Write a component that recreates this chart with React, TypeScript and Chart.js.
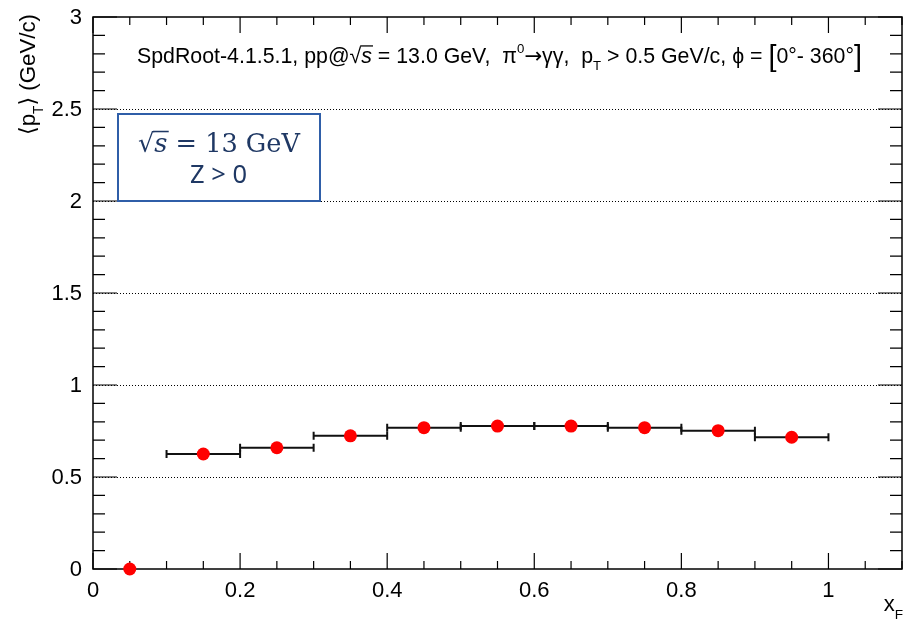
import React, { useEffect, useRef } from "react";
import { Chart, registerables } from "chart.js";
Chart.register(...registerables);

const xCenters = [0.05, 0.15, 0.25, 0.35, 0.45, 0.55, 0.65, 0.75, 0.85, 0.95];
const meanPt = [0, 0.625, 0.659, 0.724, 0.768, 0.777, 0.777, 0.768, 0.752, 0.716];
const xHalfWidth = [0, 0.05, 0.05, 0.05, 0.05, 0.05, 0.05, 0.05, 0.05, 0.05];
const xTickValues = [0, 0.2, 0.4, 0.6, 0.8, 1.0];
const xTickLabels = ["0", "0.2", "0.4", "0.6", "0.8", "1"];
const yTickValues = [0, 0.5, 1, 1.5, 2, 2.5, 3];
const yTickLabels = ["0", "0.5", "1", "1.5", "2", "2.5", "3"];
const gridValues = [0.5, 1, 1.5, 2, 2.5];

type Seg = { t: string; italic?: boolean; scale?: number; dy?: number; family?: string; over?: boolean };

const SANS = "'Liberation Sans', Arial, 'DejaVu Sans', sans-serif";
const DJV = "'DejaVu Sans', sans-serif";

function fontOf(seg: Seg, size: number, family: string) {
  return `${seg.italic ? "italic " : ""}${size * (seg.scale ?? 1)}px ${seg.family ?? family}`;
}
function measureRich(ctx: CanvasRenderingContext2D, segs: Seg[], size: number, family: string) {
  let w = 0;
  for (const s of segs) {
    ctx.font = fontOf(s, size, family);
    w += ctx.measureText(s.t).width;
  }
  return w;
}
function drawRich(ctx: CanvasRenderingContext2D, segs: Seg[], x: number, y: number, size: number, family: string) {
  let cx = x;
  for (const s of segs) {
    ctx.font = fontOf(s, size, family);
    ctx.fillText(s.t, cx, y + (s.dy ?? 0) * size);
    const w = ctx.measureText(s.t).width;
    if (s.over) {
      ctx.save();
      ctx.lineWidth = Math.max(1, size * 0.06);
      ctx.strokeStyle = ctx.fillStyle as string;
      ctx.beginPath();
      ctx.moveTo(cx - size * 0.05, y - size * 0.8);
      ctx.lineTo(cx + w + size * 0.05, y - size * 0.8);
      ctx.stroke();
      ctx.restore();
    }
    cx += w;
  }
}
function fitSize(ctx: CanvasRenderingContext2D, segs: Seg[], family: string, width: number) {
  const w = measureRich(ctx, segs, 20, family);
  return (20 * width) / w;
}

const titleSegs: Seg[] = [
  { t: "SpdRoot-4.1.5.1, pp@" },
  { t: "√" },
  { t: "s", italic: true, over: true },
  { t: " = 13.0 GeV,  π" },
  { t: "0", scale: 0.62, dy: -0.45 },
  { t: "→", family: DJV },
  { t: "γγ,  p" },
  { t: "T", scale: 0.62, dy: 0.35 },
  { t: " > 0.5 GeV/c, ϕ = " },
  { t: "[", scale: 1.35, dy: 0.12 },
  { t: "0°- 360°" },
  { t: "]", scale: 1.35, dy: 0.12 },
];
const yTitleSegs: Seg[] = [
  { t: "⟨", family: DJV },
  { t: "p" },
  { t: "T", scale: 0.62, dy: 0.35 },
  { t: "⟩", family: DJV },
  { t: " (GeV/c)" },
];
const xTitleSegs: Seg[] = [{ t: "x" }, { t: "F", scale: 0.62, dy: 0.35 }];
const boxLine1: Seg[] = [
  { t: "√", family: "'DejaVu Serif', serif" },
  { t: "s", italic: true, over: true },
  { t: " = 13 GeV" },
];
const boxLine2: Seg[] = [{ t: "Z > 0" }];

const rootPlugin = {
  id: "rootStyle",
  beforeDatasetsDraw(chart: any) {
    const ctx: CanvasRenderingContext2D = chart.ctx;
    const { left, right, top, bottom } = chart.chartArea;
    const xs = chart.scales.x;
    const ys = chart.scales.y;
    ctx.save();
    // grid
    ctx.strokeStyle = "#000";
    ctx.lineWidth = 1;
    ctx.setLineDash([1, 2]);
    for (const g of gridValues) {
      const py = Math.round(ys.getPixelForValue(g)) + 0.5;
      ctx.beginPath();
      ctx.moveTo(left, py);
      ctx.lineTo(right, py);
      ctx.stroke();
    }
    ctx.setLineDash([]);
    // frame
    ctx.lineWidth = 1.5;
    ctx.strokeRect(left, top, right - left, bottom - top);
    // y ticks
    ctx.lineWidth = 1.2;
    for (let i = 0; i <= 30; i++) {
      const v = i * 0.1;
      const py = ys.getPixelForValue(v);
      const len = i % 5 === 0 ? 24 : 12;
      ctx.beginPath();
      ctx.moveTo(left, py);
      ctx.lineTo(left + len, py);
      ctx.moveTo(right, py);
      ctx.lineTo(right - len, py);
      ctx.stroke();
    }
    // x ticks
    for (let i = 0; i <= 22; i++) {
      const v = i * 0.05;
      const px = xs.getPixelForValue(v);
      const len = i % 4 === 0 ? 16 : 8;
      ctx.beginPath();
      ctx.moveTo(px, bottom);
      ctx.lineTo(px, bottom - len);
      ctx.moveTo(px, top);
      ctx.lineTo(px, top + len);
      ctx.stroke();
    }
    // tick labels
    ctx.fillStyle = "#000";
    ctx.font = `22px ${SANS}`;
    ctx.textAlign = "right";
    ctx.textBaseline = "middle";
    yTickValues.forEach((v, i) => {
      ctx.fillText(yTickLabels[i], left - 11, ys.getPixelForValue(v) + 1);
    });
    ctx.textAlign = "center";
    ctx.textBaseline = "top";
    xTickValues.forEach((v, i) => {
      ctx.fillText(xTickLabels[i], xs.getPixelForValue(v), bottom + 11);
    });
    ctx.textAlign = "left";
    ctx.textBaseline = "alphabetic";
    // error bars
    ctx.lineWidth = 2;
    ctx.strokeStyle = "#111";
    xCenters.forEach((x, i) => {
      const e = xHalfWidth[i];
      if (!e) return;
      const py = ys.getPixelForValue(meanPt[i]);
      const x0 = xs.getPixelForValue(x - e);
      const x1 = xs.getPixelForValue(x + e);
      ctx.beginPath();
      ctx.moveTo(x0, py);
      ctx.lineTo(x1, py);
      ctx.moveTo(x0, py - 4);
      ctx.lineTo(x0, py + 4);
      ctx.moveTo(x1, py - 4);
      ctx.lineTo(x1, py + 4);
      ctx.stroke();
    });
    // title
    const ts = fitSize(ctx, titleSegs, SANS, 725);
    drawRich(ctx, titleSegs, 137, 63, ts, SANS);
    // y title
    const yt = fitSize(ctx, yTitleSegs, SANS, 121);
    ctx.save();
    ctx.translate(35, 135);
    ctx.rotate(-Math.PI / 2);
    drawRich(ctx, yTitleSegs, 0, 0, yt, SANS);
    ctx.restore();
    // x title
    const xtSize = 22;
    const xtw = measureRich(ctx, xTitleSegs, xtSize, SANS);
    drawRich(ctx, xTitleSegs, 903 - xtw, 611, xtSize, SANS);
    ctx.restore();
  },
  afterDatasetsDraw(chart: any) {
    const ctx: CanvasRenderingContext2D = chart.ctx;
    ctx.save();
    const bx = 118, by = 114, bw = 202, bh = 87;
    ctx.fillStyle = "#fff";
    ctx.fillRect(bx, by, bw, bh);
    ctx.strokeStyle = "#2F5EA8";
    ctx.lineWidth = 2;
    ctx.strokeRect(bx, by, bw, bh);
    ctx.fillStyle = "#1F3864";
    const serif = "'DejaVu Serif', 'Liberation Serif', serif";
    const s1 = fitSize(ctx, boxLine1, serif, 162);
    drawRich(ctx, boxLine1, 138, 152, s1, serif);
    const sans2 = "'Noto Sans', 'Liberation Sans', sans-serif";
    const s2 = fitSize(ctx, boxLine2, sans2, 57);
    drawRich(ctx, boxLine2, 190, 183, s2, sans2);
    ctx.restore();
  },
};

export default function App() {
  const ref = useRef<HTMLCanvasElement | null>(null);
  useEffect(() => {
    if (!ref.current) return;
    const chart = new Chart(ref.current, {
      type: "scatter",
      data: {
        datasets: [
          {
            data: xCenters.map((x, i) => ({ x, y: meanPt[i] })),
            backgroundColor: "#ff0000",
            borderColor: "#ff0000",
            borderWidth: 0,
            pointRadius: 6.5,
            pointHoverRadius: 6.5,
            clip: false as any,
          },
        ],
      },
      options: {
        responsive: false,
        animation: false,
        events: [],
        layout: { autoPadding: false, padding: { left: 93, top: 17, right: 2, bottom: 55 } },
        scales: {
          x: { type: "linear", min: 0, max: 1.1, display: false },
          y: { type: "linear", min: 0, max: 3, display: false },
        },
        plugins: { legend: { display: false }, tooltip: { enabled: false } },
      },
      plugins: [rootPlugin],
    });
    return () => chart.destroy();
  }, []);
  return (
    <div style={{ position: "absolute", left: 0, top: 0, width: 904, height: 624, background: "#fff" }}>
      <canvas ref={ref} width={904} height={624} style={{ display: "block" }} />
    </div>
  );
}
